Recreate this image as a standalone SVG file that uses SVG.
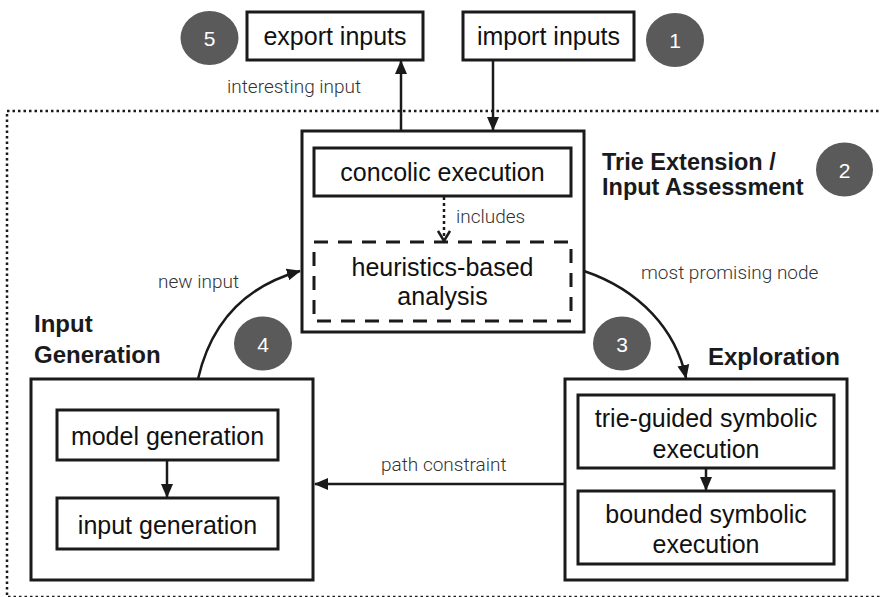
<svg xmlns="http://www.w3.org/2000/svg" width="881" height="597" viewBox="0 0 881 597">
<defs>
<style>
.box{fill:#fff;stroke:#1a1a1a;stroke-width:3}
.dash{fill:none;stroke:#1a1a1a;stroke-width:3;stroke-dasharray:14 10}
.lbl{font-family:"Liberation Sans",Arial,sans-serif;font-size:25px;fill:#111;text-anchor:middle}
.ttl{font-family:"Liberation Sans",Arial,sans-serif;font-size:24px;font-weight:bold;fill:#1a1a1a}
.ttl2{font-family:"Liberation Sans",Arial,sans-serif;font-size:23.5px;font-weight:bold;fill:#1a1a1a}
.edge{font-family:Roboto,"Liberation Sans",sans-serif;font-weight:300;font-size:19px;fill:#333}
.badge{fill:#5a5a5a}
.num{font-family:"Liberation Sans",Arial,sans-serif;font-size:21px;fill:#fff;text-anchor:middle}
.con{fill:none;stroke:#1a1a1a;stroke-width:2.5}
</style>
<marker id="ah" markerUnits="userSpaceOnUse" markerWidth="14" markerHeight="14" viewBox="0 0 14 14" refX="13" refY="7" orient="auto">
<path d="M0,1 L14,7 L0,13 Z" fill="#1a1a1a"/>
</marker>
<marker id="oh" markerUnits="userSpaceOnUse" markerWidth="14" markerHeight="14" viewBox="0 0 14 14" refX="12" refY="7" orient="auto">
<path d="M2,1 L12,7 L2,13" fill="none" stroke="#1a1a1a" stroke-width="2.5"/>
</marker>
</defs>
<rect width="881" height="597" fill="#fff"/>
<rect id="boundary" x="7" y="111" width="900" height="486" fill="none" stroke="#1a1a1a" stroke-width="2.5" stroke-dasharray="2.5 3"/>

<g id="export">
<rect class="box" x="247" y="12" width="176" height="48"/>
<text class="lbl" x="335" y="45">export inputs</text>
</g>
<g id="import">
<rect class="box" x="463" y="12" width="171" height="48"/>
<text class="lbl" x="548.5" y="45">import inputs</text>
</g>

<g id="trie">
<rect class="box" x="302" y="131" width="282" height="201"/>
<g id="concolic">
<rect class="box" x="314" y="148" width="257" height="48"/>
<text class="lbl" x="442.5" y="181">concolic execution</text>
</g>
<g id="heuristics">
<rect class="dash" x="314" y="242" width="257" height="79"/>
<text class="lbl" x="442.5" y="276">heuristics-based</text>
<text class="lbl" x="442.5" y="305">analysis</text>
</g>
<text class="ttl2" x="602" y="170">Trie Extension /</text>
<text class="ttl2" x="602" y="195">Input Assessment</text>
</g>

<g id="inputgen">
<rect class="box" x="31" y="379" width="282" height="201"/>
<g id="model">
<rect class="box" x="57" y="410" width="221" height="50"/>
<text class="lbl" x="167.5" y="445">model generation</text>
</g>
<g id="input">
<rect class="box" x="57" y="498" width="221" height="51"/>
<text class="lbl" x="167.5" y="534">input generation</text>
</g>
<text class="ttl" x="34" y="332">Input</text>
<text class="ttl" x="34" y="363">Generation</text>
</g>

<g id="exploration">
<rect class="box" x="565" y="379" width="282" height="201"/>
<g id="trieguided">
<rect class="box" x="578" y="395" width="256" height="73"/>
<text class="lbl" x="706" y="427">trie-guided symbolic</text>
<text class="lbl" x="706" y="458">execution</text>
</g>
<g id="bounded">
<rect class="box" x="578" y="491" width="256" height="73"/>
<text class="lbl" x="706" y="523">bounded symbolic</text>
<text class="lbl" x="706" y="553">execution</text>
</g>
<text class="ttl" x="708" y="365">Exploration</text>
</g>

<g id="badges">
<ellipse class="badge" cx="209.5" cy="38" rx="29" ry="27"/>
<text class="num" x="209.5" y="46">5</text>
<ellipse class="badge" cx="675" cy="40" rx="29" ry="27"/>
<text class="num" x="675" y="48">1</text>
<ellipse class="badge" cx="844.5" cy="169.5" rx="28.5" ry="27"/>
<text class="num" x="844.5" y="177.5">2</text>
<ellipse class="badge" cx="622" cy="343.5" rx="29" ry="27"/>
<text class="num" x="622" y="351.5">3</text>
<ellipse class="badge" cx="263" cy="343.5" rx="29" ry="27"/>
<text class="num" x="263" y="351.5">4</text>
</g>

<g id="connectors">
<line class="con" x1="401" y1="131" x2="401" y2="61" marker-end="url(#ah)"/>
<line class="con" x1="493" y1="61" x2="493" y2="130" marker-end="url(#ah)"/>
<line class="con" x1="444" y1="197" x2="444" y2="241" stroke-dasharray="3 3" marker-end="url(#oh)"/>
<line class="con" x1="167" y1="461" x2="167" y2="497" marker-end="url(#ah)"/>
<line class="con" x1="706" y1="469" x2="706" y2="490" marker-end="url(#ah)"/>
<line class="con" x1="565" y1="484" x2="315" y2="484" marker-end="url(#ah)"/>
<path class="con" d="M198,379 C212,318 250,285 300,271" marker-end="url(#ah)"/>
<path class="con" d="M584,271 C640,290 676,330 686,378" marker-end="url(#ah)"/>
<text class="edge" x="227" y="93">interesting input</text>
<text class="edge" x="456" y="223">includes</text>
<text class="edge" x="158" y="288">new input</text>
<text class="edge" x="641" y="279">most promising node</text>
<text class="edge" x="381" y="471">path constraint</text>
</g>
</svg>
